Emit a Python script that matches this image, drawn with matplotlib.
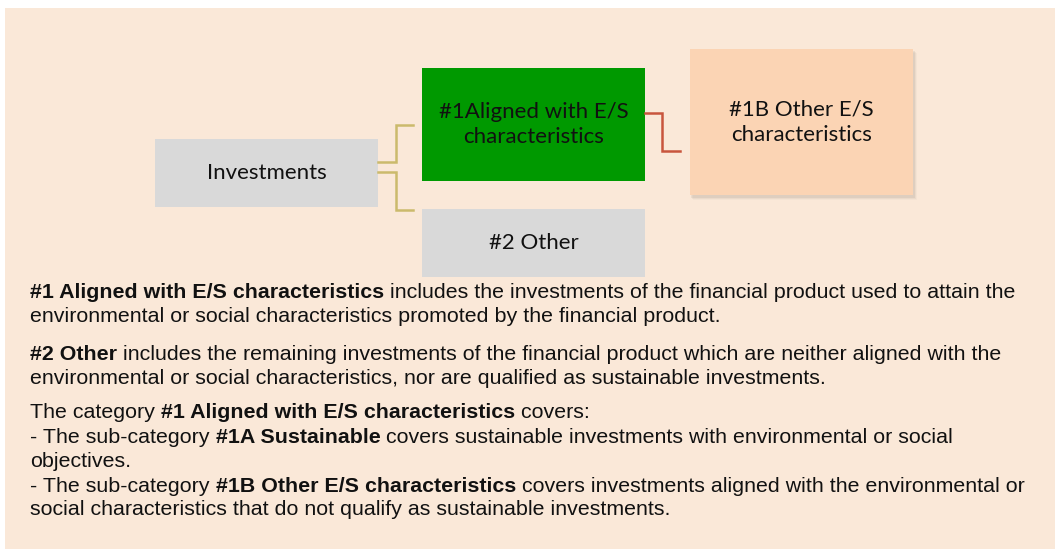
import matplotlib
matplotlib.use("Agg")
import matplotlib.pyplot as plt
from matplotlib.patches import Rectangle

# diagram content
box_labels = ["Investments", "#1Aligned with E/S\ncharacteristics", "#2 Other", "#1B Other E/S\ncharacteristics"]
box_colors = ["#D9D9D9", "#009900", "#D9D9D9", "#FBD4B4"]
# (x, y, w, h) in pixels, y from the top
box_geom = [(155, 139, 223, 68), (422, 68, 223, 113), (422, 209, 223, 68), (690, 49, 223, 146)]

# body text: each line is a list of (text, bold) pieces
body_lines = [
    [("#1 Aligned with E/S characteristics", True), (" includes the investments of the financial product used to attain the", False)],
    [("environmental or social characteristics promoted by the financial product.", False)],
    [("#2 Other", True), (" includes the remaining investments of the financial product which are neither aligned with the", False)],
    [("environmental or social characteristics, nor are qualified as sustainable investments.", False)],
    [("The category ", False), ("#1 Aligned with E/S characteristics", True), (" covers:", False)],
    [("- The sub-category ", False), ("#1A Sustainable", True), (" covers sustainable investments with environmental or social", False)],
    [("objectives.", False)],
    [("- The sub-category ", False), ("#1B Other E/S characteristics", True), (" covers investments aligned with the environmental or", False)],
    [("social characteristics that do not qualify as sustainable investments.", False)],
]
body_baselines = [298, 322, 360, 384, 418, 443, 467, 492, 515]

fig = plt.figure(figsize=(10.55, 5.5), dpi=100)
ax = fig.add_axes([0, 0, 1, 1])
ax.set_xlim(0, 1055)
ax.set_ylim(550, 0)
ax.axis("off")

# background panel
ax.add_patch(Rectangle((5, 8), 1050, 541, facecolor="#FAE8D8", edgecolor="none"))

# connectors
gold = "#CBBA6C"
ax.plot([378, 396, 396, 413], [162, 162, 125, 125], color=gold, lw=1.8, solid_joinstyle="miter")
ax.plot([378, 396, 396, 413], [172, 172, 210, 210], color=gold, lw=1.8, solid_joinstyle="miter")
ax.plot([645, 662, 662, 680], [113, 113, 151, 151], color="#C8553D", lw=1.8, solid_joinstyle="miter")

# boxes
for i, (lab, col, (x, y, w, h)) in enumerate(zip(box_labels, box_colors, box_geom)):
    if i == 3:
        for k, a in enumerate([0.10, 0.07, 0.04]):
            ax.add_patch(Rectangle((x + 1 + k, y + 2 + k), w + 1, h + 1, facecolor="#7a6a60",
                                   alpha=a, edgecolor="none"))
    ax.add_patch(Rectangle((x, y), w, h, facecolor=col, edgecolor="none"))
    ax.text(x + w / 2, y + h / 2, lab, ha="center", va="center", fontsize=16,
            family="Lato", color="#111111", linespacing=1.35)

# body text with mixed bold/regular pieces
fig.canvas.draw()
renderer = fig.canvas.get_renderer()
for pieces, yb in zip(body_lines, body_baselines):
    x = 30
    for txt, bold in pieces:
        t = ax.text(x, yb, txt, ha="left", va="baseline", fontsize=15.4,
                    family="Liberation Sans", fontweight="bold" if bold else "normal",
                    color="#111111")
        bb = t.get_window_extent(renderer)
        x += bb.width

fig.savefig("out.png", dpi=100)
